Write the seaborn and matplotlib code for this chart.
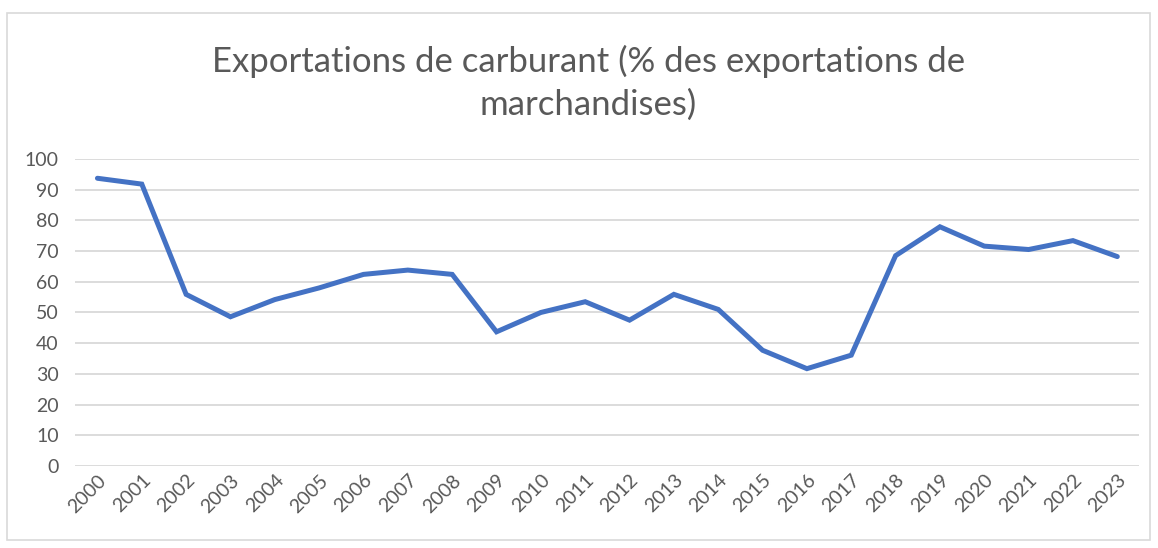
import pandas as pd
import numpy as np
import seaborn as sns
import matplotlib.pyplot as plt
from matplotlib.patches import Rectangle

sns.set_style('white')
plt.rcParams['font.family'] = ['Lato', 'DejaVu Sans']

# Data
years = [str(y) for y in range(2000, 2024)]
fuel_share = [93.7, 91.8, 55.9, 48.6, 54.2, 58.0, 62.4, 63.8, 62.4, 43.7,
              50.0, 53.5, 47.5, 55.9, 51.0, 37.7, 31.7, 36.1, 68.5, 77.9,
              71.6, 70.5, 73.4, 68.2]
y_ticks = list(range(0, 101, 10))

df = pd.DataFrame({'year': years, 'value': fuel_share})

text_col = '#595959'
grid_col = '#d9d9d9'

fig = plt.figure(figsize=(11.58, 5.48), dpi=100)
ax = fig.add_axes([0.065, 0.1496, 0.919, 0.5604])

sns.lineplot(data=df, x='year', y='value', ax=ax, color='#4472C4', linewidth=3.6,
             solid_joinstyle='miter', solid_capstyle='round', sort=False)

ax.set_ylim(0, 100)
ax.set_xlim(-0.5, len(years) - 0.5)
ax.set_yticks(y_ticks)
ax.yaxis.grid(True, color=grid_col, linewidth=1.3)
ax.set_axisbelow(True)
for s in ax.spines.values():
    s.set_visible(False)
ax.set_xlabel('')
ax.set_ylabel('')
ax.tick_params(axis='both', length=0, colors=text_col, labelsize=14)
ax.tick_params(axis='y', pad=12)
ax.tick_params(axis='x', pad=4)
plt.setp(ax.get_xticklabels(), rotation=45, ha='right', rotation_mode='anchor')

fig.suptitle('Exportations de carburant (% des exportations de\nmarchandises)',
             x=0.508, y=0.918, fontsize=25, color=text_col, linespacing=1.4)

# chart area border
fig.patches.append(Rectangle((7 / 1158, 8 / 548), 1143 / 1158, 527 / 548,
                             transform=fig.transFigure, fill=False,
                             edgecolor='#d9d9d9', linewidth=1.2))

fig.savefig('out.png', dpi=100, facecolor='white')
